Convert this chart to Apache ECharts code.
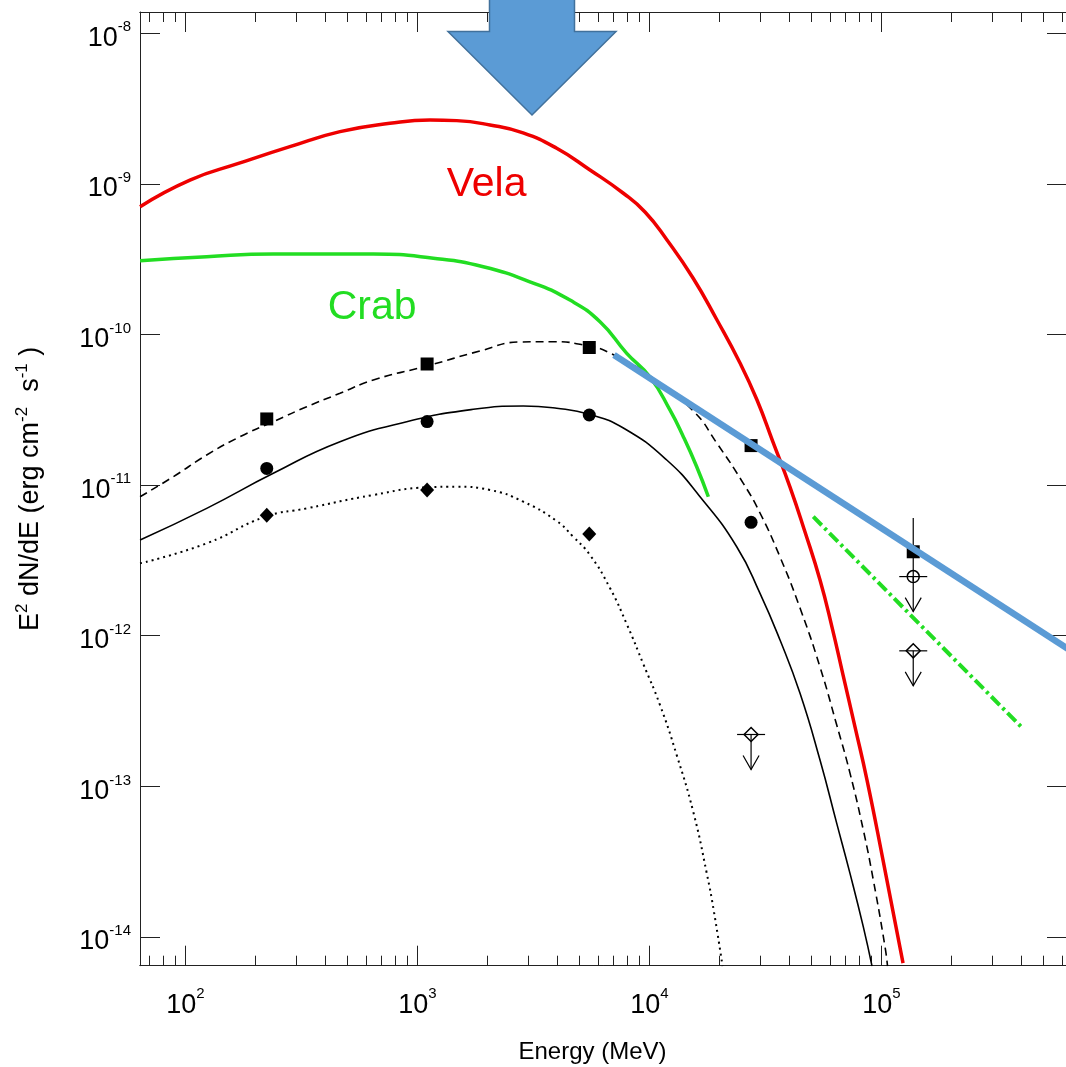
<!DOCTYPE html>
<html>
<head>
<meta charset="utf-8">
<script src="https://cdn.jsdelivr.net/npm/echarts@6/dist/echarts.min.js"></script>
<style>
  html, body { margin: 0; padding: 0; background: #ffffff; }
  #chart { width: 1066px; height: 1067px; }
</style>
</head>
<body>
<div id="chart"></div>
<script>
// Energies in MeV, fluxes as E^2 dN/dE in erg cm^-2 s^-1

// Vela model spectrum
const velaE = [63.7, 104.5, 171.8, 281.8, 463.4, 760.3, 1132, 1476, 2053, 2851, 3981, 5540, 7688, 9563, 11896, 15399, 19537, 24549, 29065, 34067, 40327, 46806, 54315, 61177, 68280, 76897, 86596, 101510, 123800];
const velaF = [7.06e-10, 1.06e-9, 1.377e-9, 1.766e-9, 2.223e-9, 2.523e-9, 2.655e-9, 2.63e-9, 2.46e-9, 2.178e-9, 1.722e-9, 1.237e-9, 8.70e-10, 6.51e-10, 4.24e-10, 2.372e-10, 1.248e-10, 6.47e-11, 3.674e-11, 1.933e-11, 9.71e-12, 4.883e-12, 2.344e-12, 1.142e-12, 5.48e-13, 2.476e-13, 1.101e-13, 3.24e-14, 6.71e-15];

// Crab model spectrum
const crabE = [63.7, 123.4, 239, 645, 1170, 1921, 3155, 4540, 6118, 7977, 10046, 12246, 13988, 15975, 17932];
const crabF = [3.09e-10, 3.285e-10, 3.42e-10, 3.42e-10, 3.21e-10, 2.82e-10, 2.195e-10, 1.692e-10, 1.215e-10, 7.50e-11, 5.22e-11, 3.155e-11, 2.097e-11, 1.324e-11, 8.37e-12];

// Fitted spectra (dashed / solid / dotted)
const dashE = [63.7, 88.6, 123.4, 171.8, 239.0, 333.0, 463.4, 645, 1099, 1859, 2766, 3838, 5431, 6755, 10050, 15446, 19484, 25370, 29940, 36520, 44540, 54310, 64120, 73130, 83480, 92190, 103540, 106150];
const dashF = [8.375e-12, 1.137e-11, 1.585e-11, 2.097e-11, 2.636e-11, 3.316e-11, 4.07e-11, 4.99e-11, 6.18e-11, 7.77e-11, 8.92e-11, 8.96e-11, 8.39e-11, 7.54e-11, 5.30e-11, 3.105e-11, 1.904e-11, 1.028e-11, 6.53e-12, 3.333e-12, 1.527e-12, 6.20e-13, 2.553e-13, 1.225e-13, 5.13e-14, 2.386e-14, 8.61e-15, 6.41e-15];

const solidE = [63.7, 123.4, 239.0, 463.4, 898.3, 1740, 2858, 3981, 5502, 7713, 11864, 16508, 23760, 29940, 36520, 44540, 54310, 64120, 73130, 83480, 91000];
const solidF = [4.32e-12, 7.01e-12, 1.198e-11, 1.942e-11, 2.636e-11, 3.186e-11, 3.351e-11, 3.236e-11, 2.953e-11, 2.393e-11, 1.468e-11, 8.375e-12, 3.90e-12, 1.912e-12, 9.36e-13, 4.145e-13, 1.495e-13, 5.68e-14, 2.644e-14, 1.168e-14, 6.41e-15];

const dotE = [63.7, 123.4, 220.8, 333.0, 645, 1102, 1476, 2053, 2858, 3981, 4680, 5540, 6755, 7977, 9404, 11100, 13100, 15446, 17645, 18967, 20640];
const dotF = [3.025e-12, 4.107e-12, 6.17e-12, 7.01e-12, 8.60e-12, 9.67e-12, 9.76e-12, 9.28e-12, 7.76e-12, 5.776e-12, 4.557e-12, 3.434e-12, 2.073e-12, 1.196e-12, 6.49e-13, 3.465e-13, 1.613e-13, 6.75e-14, 2.656e-14, 1.464e-14, 6.41e-15];

// Power-law lines
const blueE = [7030, 717000];
const blueF = [7.31e-11, 7.26e-13];
const greenLawE = [50800, 406000];
const greenLawF = [6.17e-12, 2.43e-13];

// Measured points
const pointE = [224, 1100, 5500, 27400, 137000];
const squareF = [2.75e-11, 6.37e-11, 8.2e-11, 1.83e-11, 3.61e-12];
const circleF = [1.29e-11, 2.64e-11, 2.92e-11, 5.66e-12];
const diamondF = [6.32e-12, 9.29e-12, 4.74e-12];

// Error bar on the last square: [E, low, high]
const squareErr = [[137000, 2.3e-12, 6.05e-12]];

// Upper limits: [E, F, kind]  kind 0 = open circle, 1 = open diamond
const upperLimits = [[137000, 2.47e-12, 0], [27400, 2.21e-13, 1], [137000, 7.94e-13, 1]];

// Source names placed on the chart
const tagNames = ['Vela', 'Crab'];
const tagE = [1984, 637];
const tagF = [9.83e-10, 1.50e-10];
const tagColors = ['#ee0000', '#22dd22'];

// Arrow marker tip
const arrowTip = [[3115, 2.87e-9]];

// Axis ticks
const xMajor = [100, 1000, 10000, 100000];
const xDecades = [10, 100, 1000, 10000, 100000];
const yMajor = [1e-14, 1e-13, 1e-12, 1e-11, 1e-10, 1e-9, 1e-8];
const xMin = 63.66, xMax = 630200;
const yMin = 6.447e-15, yMax = 1.384e-8;

const xMinor = [];
xDecades.forEach(d => { for (let m = 2; m <= 9; m++) xMinor.push(m * d); });

const FONT = '"Liberation Sans", Arial, Helvetica, sans-serif';
const AXIS_COLOR = '#222';

function zip(a, b) { return a.map((v, i) => [v, b[i]]); }

function powLabel(v) {
  const e = Math.round(Math.log10(v));
  return '{b|10}{s|' + e + '}';
}

const labelRich = {
  b: { fontSize: 27, fontFamily: FONT, color: '#000', lineHeight: 37 },
  s: { fontSize: 15, fontFamily: FONT, color: '#000', lineHeight: 15, verticalAlign: 'top' }
};

function xAxisDef(pos, ticks, len, withLabels) {
  return {
    type: 'log', position: pos, min: xMin, max: xMax, logBase: 10,
    axisLine: { show: true, onZero: false, lineStyle: { color: AXIS_COLOR, width: 1 } },
    axisTick: { show: true, inside: true, length: len, customValues: ticks, lineStyle: { color: AXIS_COLOR, width: 1 } },
    axisLabel: withLabels ? {
      show: true, customValues: xMajor, margin: 21, formatter: powLabel, rich: labelRich
    } : { show: false },
    splitLine: { show: false },
    minorTick: { show: false },
    name: withLabels ? 'Energy (MeV)' : '',
    nameLocation: 'middle', nameGap: 75,
    nameTextStyle: { fontSize: 24, fontFamily: FONT, color: '#000', padding: [0, 22, 0, 0] }
  };
}

function yAxisDef(pos, withLabels) {
  return {
    type: 'log', position: pos, min: yMin, max: yMax, logBase: 10,
    axisLine: { show: true, onZero: false, lineStyle: { color: AXIS_COLOR, width: 1 } },
    axisTick: { show: true, inside: true, length: 20, customValues: yMajor, lineStyle: { color: AXIS_COLOR, width: 1 } },
    axisLabel: withLabels ? {
      show: true, customValues: yMajor, margin: 9, formatter: powLabel, rich: labelRich,
      padding: [10, 0, 0, 0]
    } : { show: false },
    splitLine: { show: false },
    minorTick: { show: false },
    name: withLabels ? '{m|E}{s|2}{m| dN/dE (erg cm}{s|-2}{m|  s}{s|-1}{m| )}' : '',
    nameLocation: 'middle', nameRotate: 90, nameGap: 92,
    nameTextStyle: {
      rich: {
        m: { fontSize: 27, fontFamily: FONT, color: '#000', lineHeight: 34 },
        s: { fontSize: 17, fontFamily: FONT, color: '#000', lineHeight: 17, verticalAlign: 'top' }
      }
    }
  };
}

function renderUpperLimit(params, api) {
  const p = api.coord([api.value(0), api.value(1)]);
  const kind = api.value(2);
  const st = { stroke: '#000', fill: null, lineWidth: 1.2 };
  const len = 35, cap = 14, aw = 8, ah = 14;
  const kids = [
    { type: 'line', shape: { x1: p[0] - cap, y1: p[1], x2: p[0] + cap, y2: p[1] }, style: st },
    { type: 'line', shape: { x1: p[0], y1: p[1], x2: p[0], y2: p[1] + len }, style: st },
    { type: 'polyline', shape: { points: [[p[0] - aw, p[1] + len - ah], [p[0], p[1] + len], [p[0] + aw, p[1] + len - ah]] }, style: st }
  ];
  if (kind === 0) {
    kids.push({ type: 'circle', shape: { cx: p[0], cy: p[1], r: 6 }, style: { stroke: '#000', fill: null, lineWidth: 1.5 } });
  } else {
    kids.push({ type: 'polygon', shape: { points: [[p[0], p[1] - 7], [p[0] + 7, p[1]], [p[0], p[1] + 7], [p[0] - 7, p[1]]] }, style: { stroke: '#000', fill: null, lineWidth: 1.5 } });
  }
  return { type: 'group', children: kids };
}

function renderErrBar(params, api) {
  const lo = api.coord([api.value(0), api.value(1)]);
  const hi = api.coord([api.value(0), api.value(2)]);
  return { type: 'line', shape: { x1: lo[0], y1: lo[1], x2: hi[0], y2: hi[1] }, style: { stroke: '#000', lineWidth: 1.2 } };
}

function renderArrow(params, api) {
  const p = api.coord([api.value(0), api.value(1)]);
  const x = p[0], y = p[1];
  const headH = 83.3, headHalf = 84, shaftHalf = 42.5, shaftTop = 130;
  return {
    type: 'polygon',
    shape: { points: [
      [x, y], [x + headHalf, y - headH], [x + shaftHalf, y - headH], [x + shaftHalf, y - shaftTop],
      [x - shaftHalf, y - shaftTop], [x - shaftHalf, y - headH], [x - headHalf, y - headH]
    ] },
    style: { fill: '#5b9bd5', stroke: '#41719c', lineWidth: 1.5 }
  };
}

function curve(name, xs, ys, color, width, type) {
  return {
    name, type: 'line', xAxisIndex: 0, yAxisIndex: 0, data: zip(xs, ys),
    showSymbol: false, smooth: 0.5, clip: true,
    lineStyle: { color, width, type: type || 'solid' }, z: 3, silent: true
  };
}

function markers(name, ys, symbol, size) {
  return {
    name, type: 'scatter', data: zip(pointE.slice(0, ys.length), ys), symbol, symbolSize: size,
    itemStyle: { color: '#000', opacity: 1 }, z: 5, silent: true
  };
}

const chart = echarts.init(document.getElementById('chart'), null, { renderer: 'canvas' });

chart.setOption({
  backgroundColor: '#ffffff',
  animation: false,
  grid: { left: 140, top: 12, width: 927, height: 953.7, containLabel: false, outerBoundsMode: 'none' },
  xAxis: [
    xAxisDef('bottom', xMajor, 20, true),
    xAxisDef('bottom', xMinor, 10, false),
    xAxisDef('top', xMajor, 20, false),
    xAxisDef('top', xMinor, 10, false)
  ],
  yAxis: [
    yAxisDef('left', true),
    yAxisDef('right', false)
  ],
  series: [
    curve('Vela', velaE, velaF, '#ee0000', 3.5),
    curve('Crab', crabE, crabF, '#22dd22', 3.5),
    curve('fit dashed', dashE, dashF, '#000', 1.6, [8, 5]),
    curve('fit solid', solidE, solidF, '#000', 1.6),
    curve('fit dotted', dotE, dotF, '#000', 2, [2, 4]),
    {
      name: 'power law', type: 'line', data: zip(blueE, blueF),
      showSymbol: false, clip: true, lineStyle: { color: '#5b9bd5', width: 6.5 }, z: 6, silent: true
    },
    {
      name: 'green law', type: 'line', data: zip(greenLawE, greenLawF),
      showSymbol: false, clip: true, lineStyle: { color: '#22dd22', width: 4, type: [12, 4, 3, 4] }, z: 4, silent: true
    },
    markers('squares', squareF, 'rect', 13),
    markers('circles', circleF, 'circle', 13),
    markers('diamonds', diamondF, 'diamond', [14, 15]),
    {
      name: 'square error', type: 'custom', data: squareErr, renderItem: renderErrBar, z: 5, silent: true
    },
    {
      name: 'upper limits', type: 'custom', data: upperLimits, renderItem: renderUpperLimit, z: 5, silent: true
    },
    {
      name: 'tags', type: 'scatter', symbolSize: 1, itemStyle: { color: 'rgba(0,0,0,0)', opacity: 1 }, silent: true, z: 7,
      data: tagNames.map((n, i) => ({
        value: [tagE[i], tagF[i]], name: n,
        label: { show: true, position: 'inside', formatter: '{b}', color: tagColors[i], opacity: 1, fontSize: 41, fontFamily: FONT }
      }))
    },
    {
      name: 'arrow', type: 'custom', data: arrowTip, renderItem: renderArrow, z: 10, silent: true, clip: false
    }
  ]
});
</script>
</body>
</html>
